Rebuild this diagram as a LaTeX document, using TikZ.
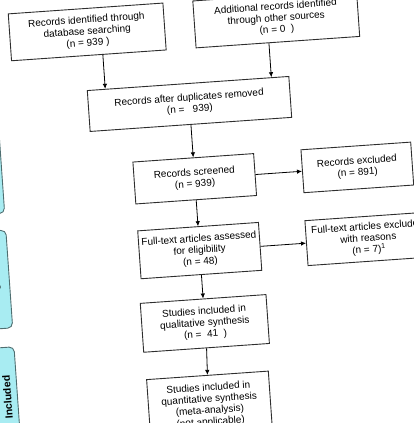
\documentclass[tikz,border=0pt]{standalone}
\usepackage{fontspec}
\setmainfont{Liberation Sans}
\usetikzlibrary{arrows.meta}
\definecolor{stagecyan}{HTML}{A8ECF2}
\definecolor{stageedge}{HTML}{4F6E70}
\definecolor{boxedge}{HTML}{2E2E2E}

\begin{document}
\begin{tikzpicture}[x=1pt,y=1pt,
  recbox/.style={draw=boxedge,fill=white,line width=0.9pt,align=center,
    font=\fontsize{10}{11.5}\selectfont,inner sep=2pt},
  stagebox/.style={draw=stageedge,fill=stagecyan,line width=0.9pt,rounded corners=5pt},
  stagelabel/.style={rotate=90,font=\fontsize{10.5}{12}\selectfont\bfseries},
  arr/.style={-{Latex[length=5pt,width=4.5pt]},line width=0.8pt}]
  \useasboundingbox (0,0) rectangle (414,423);
  \clip (0,0) rectangle (414,423);
  \begin{scope}[rotate around={4:(207,212)},transform shape]
    % stage bars on the left
    \draw[stagebox] (-30,224) rectangle (5,345);
    \draw[stagebox] (-30,109) rectangle (5,207);
    \node[stagelabel] (stElig) at (-9,158) {Eligibility};
    \draw[stagebox] (-30,-20) rectangle (5,90);
    \node[stagelabel] (stIncl) at (-5,40) {Included};
    % identification
    \node[recbox,minimum width=155pt,minimum height=47pt] (ident) at (100,399)
      {Records identified through\\database searching\\(n = 939 )};
    \node[recbox,minimum width=164pt,minimum height=47pt] (other) at (289.5,399)
      {Additional records identified\\through other sources\\(n = 0~~)};
    \node[recbox,minimum width=202pt,minimum height=41pt] (dedup) at (197,320)
      {Records after duplicates removed\\(n = ~~939)};
    % screening
    \node[recbox,minimum width=121pt,minimum height=42pt] (screened) at (197,245)
      {Records screened\\(n = 939)};
    \node[recbox,minimum width=110pt,minimum height=43pt] (excluded) at (360,245)
      {Records excluded\\(n = 891)};
    % eligibility
    \node[recbox,minimum width=121pt,minimum height=48pt] (fulltext) at (197,173)
      {Full-text articles assessed\\for eligibility\\(n = 48)};
    \node[recbox,minimum width=124pt,minimum height=45pt] (ftexcl) at (366,173)
      {Full-text articles excluded\\with reasons\\(n = 7)\textsuperscript{1}};
    % included
    \node[recbox,minimum width=126pt,minimum height=49pt] (qual) at (197,100)
      {Studies included in\\qualitative synthesis\\(n = ~41~~)};
    \node[recbox,minimum width=122pt,minimum height=60pt] (quant) at (196,18)
      {Studies included in\\quantitative synthesis\\(meta-analysis)\\(not applicable)};
    % connectors
    \draw[arr] ([xshift=14pt]ident.south) -- ([xshift=14pt]ident.south |- dedup.north);
    \draw[arr] ([xshift=-9pt]other.south) -- ([xshift=-9pt]other.south |- dedup.north);
    \draw[arr] (dedup.south) -- (screened.north);
    \draw[arr] (screened.east) -- (excluded.west);
    \draw[arr] (screened.south) -- (fulltext.north);
    \draw[arr] (fulltext.east) -- (ftexcl.west);
    \draw[arr] (fulltext.south) -- (qual.north);
    \draw[arr] (qual.south) -- (quant.north);
  \end{scope}
\end{tikzpicture}
\end{document}
